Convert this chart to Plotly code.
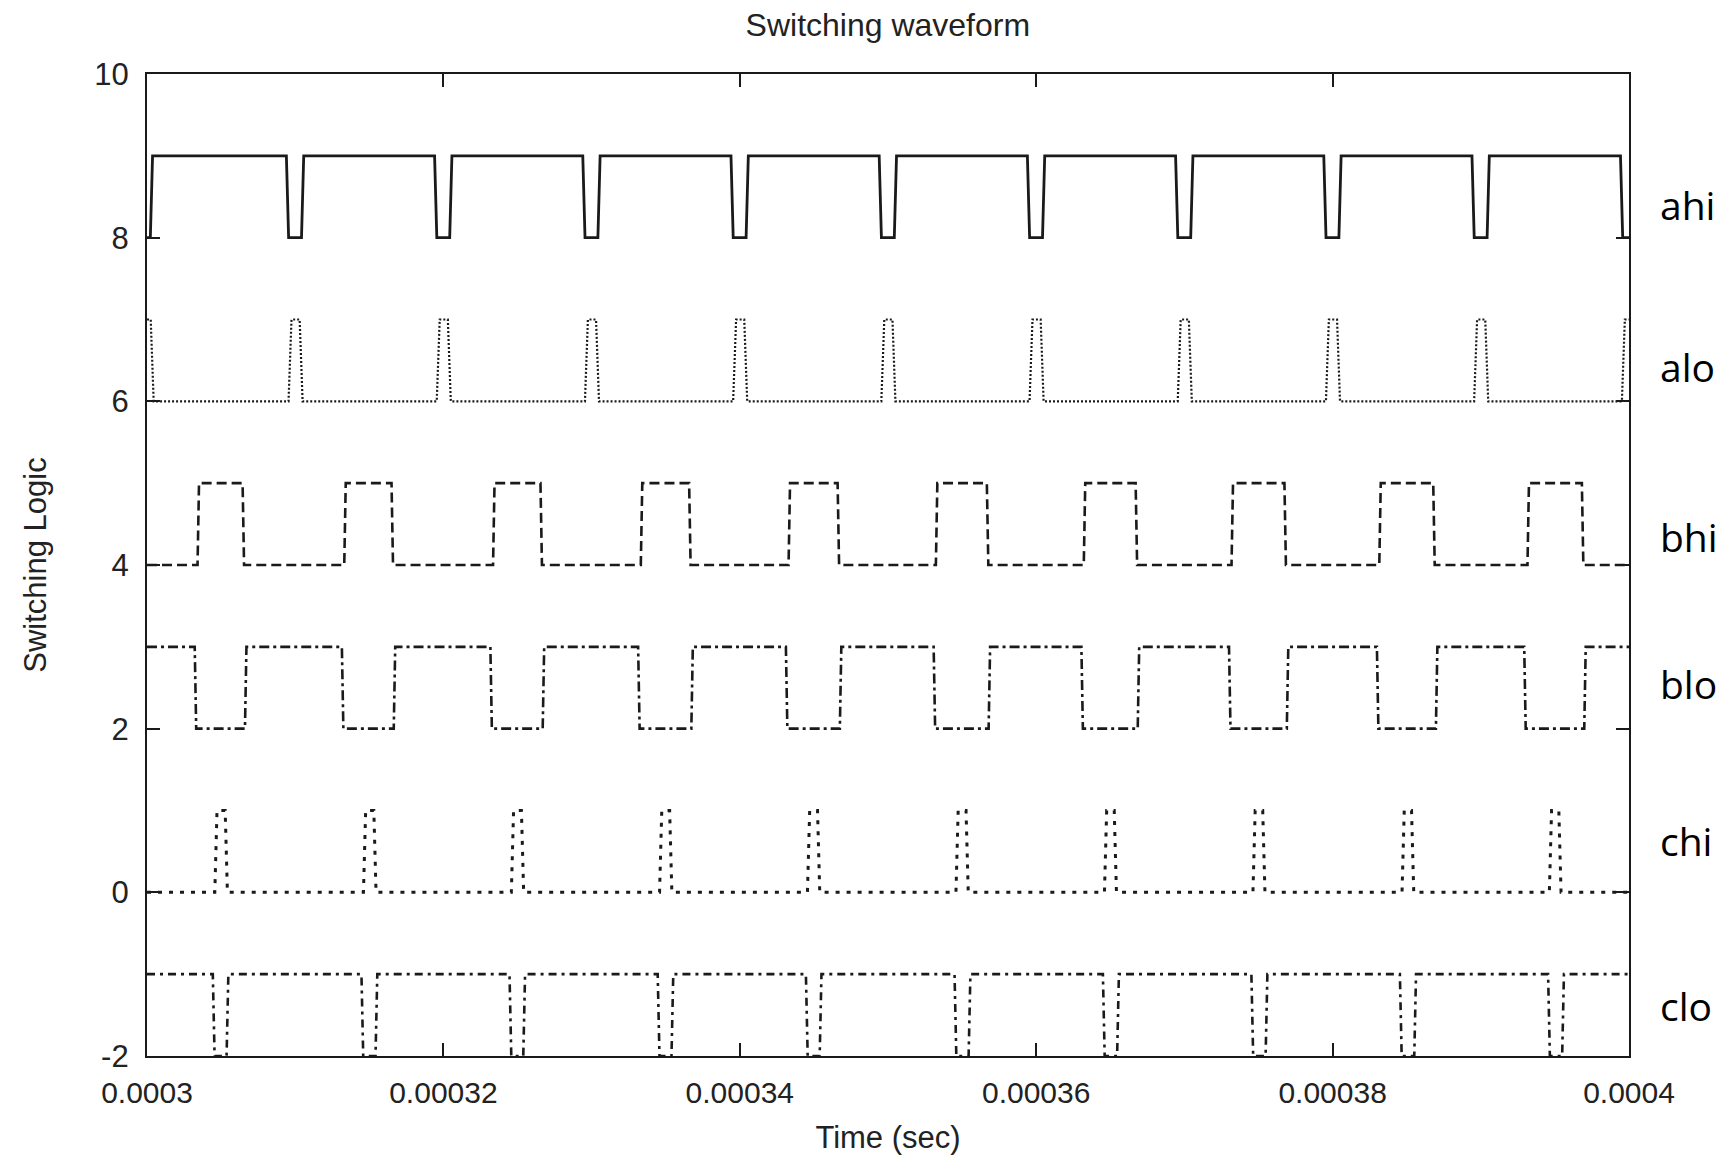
import plotly.graph_objects as go

# ---------------- data (times in microseconds) ----------------
series_names = ["ahi", "alo", "bhi", "blo", "chi", "clo"]

# each series: the two levels it toggles between (first = starting level), transition mid-times
ahi_levels = [8, 9]          # starts low
ahi_edges = [300.30,
             309.48, 310.50, 319.48, 320.50, 329.48, 330.50, 339.48, 340.50,
             349.48, 350.50, 359.48, 360.50, 369.48, 370.50, 379.48, 380.50,
             389.48, 390.50, 399.50]

alo_levels = [7, 6]          # starts high
alo_edges = [300.35,
             309.65, 310.40, 319.65, 320.40, 329.65, 330.40, 339.65, 340.40,
             349.65, 350.40, 359.65, 360.40, 369.65, 370.40, 379.65, 380.40,
             389.65, 390.40, 399.62]

bhi_levels = [4, 5]          # starts low
bhi_edges = [303.46, 306.50, 313.36, 316.55, 323.40, 326.60, 333.37, 336.63,
             343.34, 346.65, 353.28, 356.72, 363.26, 366.76, 373.23, 376.80,
             383.20, 386.84, 393.20, 396.87]

blo_levels = [3, 2]          # starts high
blo_edges = [303.27, 306.66, 313.20, 316.70, 323.22, 326.75, 333.19, 336.78,
             343.16, 346.80, 353.13, 356.84, 363.10, 366.90, 373.06, 376.96,
             383.04, 387.02, 392.98, 397.03]

chi_levels = [0, 1]          # starts low
chi_edges = [304.65, 305.35, 314.68, 315.38, 324.66, 325.34, 334.66, 335.34,
             344.64, 345.32, 354.66, 355.34, 364.68, 365.34, 374.70, 375.36,
             384.76, 385.40, 394.70, 395.34]

clo_levels = [-1, -2]        # starts high
clo_edges = [304.50, 305.43, 314.53, 315.48, 324.52, 325.45, 334.52, 335.45,
             344.52, 345.45, 354.55, 355.50, 364.56, 365.52, 374.58, 375.54,
             384.60, 385.57, 394.60, 395.55]

t_start, t_end = 300.0, 400.0

x_tickvals = [0.0003, 0.00032, 0.00034, 0.00036, 0.00038, 0.0004]
x_ticktext = ["0.0003", "0.00032", "0.00034", "0.00036", "0.00038", "0.0004"]
y_tickvals = [-2, 0, 2, 4, 6, 8, 10]
y_ticktext = ["-2", "0", "2", "4", "6", "8", "10"]

title_text = "Switching waveform"
x_title = "Time (sec)"
y_title = "Switching Logic"

# ---------------- styles ----------------
INK = "#1a1a1a"
ramps = {"ahi": 0.15, "alo": 0.2, "bhi": 0.1, "blo": 0.1, "chi": 0.15, "clo": 0.12}
dashes = {
    "ahi": "solid",
    "alo": "2px,2px",
    "bhi": "10px,5px",
    "blo": "10px,4px,3px,4px",
    "chi": "4px,7px",
    "clo": "8px,5px,3px,5px",
}
widths = {"ahi": 2.8, "alo": 2.2, "bhi": 2.6, "blo": 2.6, "chi": 3.0, "clo": 2.6}
label_y = {"ahi": 8.40, "alo": 6.42, "bhi": 4.35, "blo": 2.55, "chi": 0.63, "clo": -1.38}

data = {
    "ahi": (ahi_levels, ahi_edges),
    "alo": (alo_levels, alo_edges),
    "bhi": (bhi_levels, bhi_edges),
    "blo": (blo_levels, blo_edges),
    "chi": (chi_levels, chi_edges),
    "clo": (clo_levels, clo_edges),
}


def waveform(levels, edges, ramp):
    xs = [t_start]
    ys = [levels[0]]
    state = 0
    for tm in edges:
        xs += [tm - ramp / 2, tm + ramp / 2]
        ys += [levels[state], levels[1 - state]]
        state = 1 - state
    xs.append(t_end)
    ys.append(levels[state])
    return [x * 1e-6 for x in xs], ys


fig = go.Figure()
for name in series_names:
    levels, edges = data[name]
    xs, ys = waveform(levels, edges, ramps[name])
    fig.add_trace(go.Scatter(
        x=xs, y=ys, mode="lines", name=name,
        line=dict(color=INK, width=widths[name], dash=dashes[name]),
        showlegend=False,
    ))

GN_FONT = "Liberation Sans, Arial, sans-serif"

for name in series_names:
    fig.add_annotation(
        x=1.0196, xref="paper", xanchor="left",
        y=label_y[name], yref="y", yanchor="middle",
        text=name, showarrow=False,
        font=dict(family="Open Sans, Noto Sans, sans-serif", size=39, color="#000000"),
    )

axis_common = dict(
    showline=True, linecolor=INK, linewidth=2.2, mirror="ticks",
    ticks="inside", ticklen=13, tickwidth=2, tickcolor=INK,
    showgrid=False, zeroline=False,
)

fig.update_layout(
    width=1729, height=1160,
    margin=dict(l=147, r=100, t=74, b=104),
    paper_bgcolor="white", plot_bgcolor="white",
    title=dict(text=title_text, x=0.5135, xanchor="center", y=0.979, yanchor="middle",
               font=dict(family=GN_FONT, size=32, color="#222222")),
    xaxis=dict(range=[0.0003, 0.0004], tickvals=x_tickvals, ticktext=x_ticktext,
               title=dict(text=x_title, standoff=18,
                          font=dict(family=GN_FONT, size=31, color="#222222")),
               tickfont=dict(family=GN_FONT, size=30, color="#222222"),
               ticklabelstandoff=9, automargin=False, **axis_common),
    yaxis=dict(range=[-2, 10], tickvals=y_tickvals, ticktext=y_ticktext,
               title=dict(text=y_title, standoff=38,
                          font=dict(family=GN_FONT, size=31, color="#222222")),
               tickfont=dict(family=GN_FONT, size=31, color="#222222"),
               ticklabelstandoff=10, automargin=False, **axis_common),
)

fig.write_html("out.html")
